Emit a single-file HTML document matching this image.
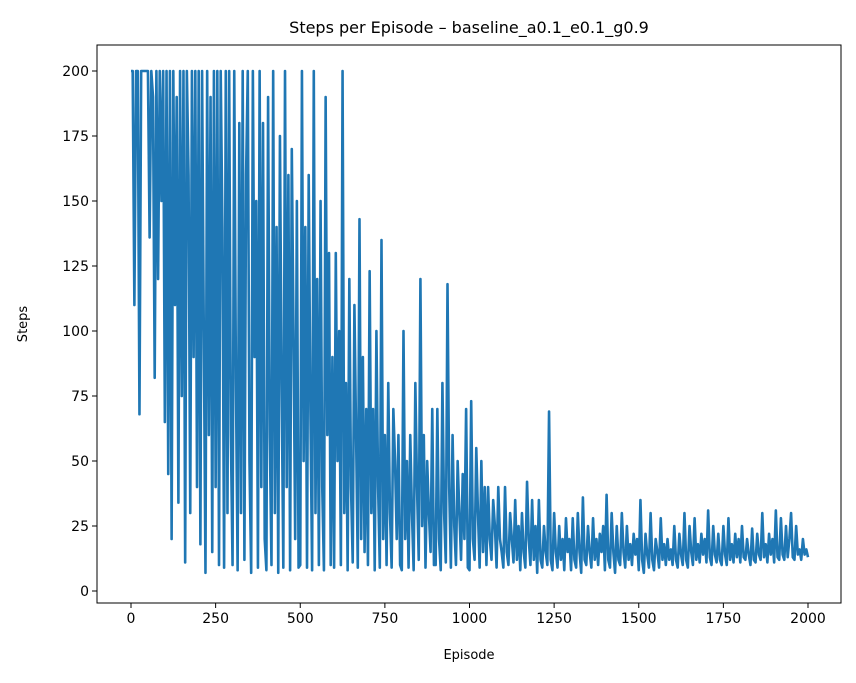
<!DOCTYPE html>
<html><head><meta charset="utf-8"><style>
body{margin:0;background:#fff;font-family:"Liberation Sans","DejaVu Sans",sans-serif}
</style></head><body>
<svg id="chart" width="856" height="678" xmlns="http://www.w3.org/2000/svg">
<rect width="856" height="678" fill="#fff"/>
<text x="469" y="33" text-anchor="middle" font-size="16" font-family="DejaVu Sans, sans-serif">Steps per Episode – baseline_a0.1_e0.1_g0.9</text>
<g id="plot"></g>
<text x="469" y="659" text-anchor="middle" font-size="13" font-family="DejaVu Sans, sans-serif">Episode</text>
<text transform="translate(27,324) rotate(-90)" text-anchor="middle" font-size="13" font-family="DejaVu Sans, sans-serif">Steps</text>
</svg>
<script>
const xTicks=[0,250,500,750,1000,1250,1500,1750,2000];
const yTicks=[0,25,50,75,100,125,150,175,200];
const episodeStep=5;
const steps=[200,200,110,200,200,68,200,200,200,200,200,136,200,190,82,200,120,200,150,200,
65,200,45,200,20,200,110,190,34,200,75,200,11,200,160,30,200,90,200,40,
200,18,200,100,7,200,60,190,15,200,40,200,10,200,140,9,200,30,200,60,
10,200,80,8,180,30,200,12,160,200,50,7,200,90,150,9,200,40,180,20,
8,190,60,10,200,30,140,7,175,80,9,200,40,160,8,170,100,20,150,9,
10,200,50,140,9,160,70,8,200,30,120,10,150,40,8,190,60,130,10,90,
9,130,50,100,10,200,30,80,8,120,40,11,110,60,9,143,20,90,15,70,
10,123,30,70,8,100,40,9,135,20,60,10,80,30,9,70,50,20,60,10,
8,100,20,50,9,60,30,8,80,40,12,120,25,60,9,50,30,15,70,10,
10,70,20,8,80,30,11,118,40,9,60,25,10,50,30,12,45,20,70,9,
8,73,20,12,55,30,9,50,15,40,10,40,20,12,35,25,9,40,20,15,
9,40,15,10,30,20,11,35,12,25,8,30,15,9,42,20,10,35,12,25,
7,35,12,9,25,15,10,69,12,8,30,15,9,25,12,20,8,28,15,20,
8,28,12,9,30,15,7,36,12,10,25,15,9,28,12,20,10,22,15,25,
8,37,12,9,30,15,7,25,12,10,30,15,9,25,12,18,10,22,14,20,
8,35,12,7,22,14,9,30,12,8,20,15,9,28,12,18,10,20,12,16,
10,25,12,9,22,14,10,30,12,9,25,15,10,28,12,18,11,22,14,20,
11,31,13,10,25,14,11,22,12,10,25,14,10,28,12,18,11,22,13,20,
11,25,13,12,20,14,10,24,12,11,22,14,12,30,13,18,11,22,14,20,
11,31,13,12,28,14,12,25,13,20,30,13,12,25,14,16,12,20,14,16,13];
const NS="http://www.w3.org/2000/svg";
const L=97,R=841,T=45,B=603;
const x=v=>131+v*(808-131)/2000;
const y=v=>591-v*(591-71)/200;
const g=document.getElementById('plot');
function mk(t,a){const e=document.createElementNS(NS,t);for(const k in a)e.setAttribute(k,a[k]);g.appendChild(e);return e;}
let d='';
steps.forEach((v,i)=>{d+=(i?'L':'M')+x(i*episodeStep).toFixed(2)+','+y(v).toFixed(2);});
const line=mk('path',{d:d,fill:'none',stroke:'#1f77b4','stroke-width':2.6,'stroke-linejoin':'round'});


const frame=mk('rect',{x:L,y:T,width:R-L,height:B-T,fill:'none',stroke:'#000','stroke-width':1});


xTicks.forEach(v=>{
  const t=mk('line',{x1:x(v),x2:x(v),y1:B,y2:B+5,stroke:'#000'});
  
  
  const l=mk('text',{x:x(v),y:B+20,'text-anchor':'middle','font-size':14,'font-family':'DejaVu Sans, sans-serif'});
  l.textContent=v;
  
  
});
yTicks.forEach(v=>{
  const t=mk('line',{x1:L-5,x2:L,y1:y(v),y2:y(v),stroke:'#000'});
  
  
  const l=mk('text',{x:L-8,y:y(v)+5,'text-anchor':'end','font-size':14,'font-family':'DejaVu Sans, sans-serif'});
  l.textContent=v;
  
  
});
</script>
</body></html>
